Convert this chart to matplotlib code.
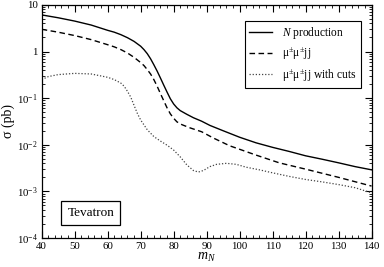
import numpy as np
import matplotlib
matplotlib.use('Agg')
import matplotlib.pyplot as plt
from matplotlib.ticker import MultipleLocator, LogLocator, FuncFormatter, NullFormatter

plt.rcParams['font.family'] = ['Liberation Serif', 'DejaVu Serif']
plt.rcParams['mathtext.fontset'] = 'custom'
plt.rcParams['mathtext.rm'] = 'Liberation Serif'
plt.rcParams['mathtext.it'] = 'Liberation Serif:italic'
plt.rcParams['mathtext.bf'] = 'Liberation Serif:bold'

# N production
m_prod = [40, 45, 50, 55, 60, 62, 64, 66, 68, 70, 71, 72, 73, 74, 75, 76, 77, 78, 79, 80,
          81, 82, 84, 86, 88.5, 91, 95, 100, 105, 110, 115, 120, 125, 130, 135, 140]
sig_prod = [6.1, 5.3, 4.5, 3.7, 2.85, 2.6, 2.3, 1.98, 1.65, 1.3, 1.1, 0.9, 0.7, 0.52, 0.38,
            0.27, 0.19, 0.135, 0.097, 0.075, 0.062, 0.054, 0.045, 0.038, 0.032, 0.026,
            0.02, 0.0145, 0.011, 0.0088, 0.0072, 0.0058, 0.0049, 0.0041, 0.0034, 0.0029]

# mu+- mu+- jj
m_mumu = [40, 45, 50, 55, 60, 62, 64, 66, 68, 70, 71, 72, 73, 74, 75, 76, 77, 78, 79,
          80, 81, 82.5, 85, 88.5, 92, 97, 100, 105, 112, 120, 130, 140]
sig_mumu = [3.0, 2.6, 2.2, 1.8, 1.4, 1.26, 1.1, 0.93, 0.75, 0.58, 0.5, 0.41, 0.33,
            0.25, 0.18, 0.125, 0.088, 0.062, 0.046, 0.037, 0.031, 0.027, 0.023, 0.019,
            0.014, 0.0095, 0.008, 0.006, 0.0041, 0.003, 0.002, 0.0013]

# mu+- mu+- jj with cuts
m_cuts = [40, 42, 45, 50, 55, 60, 62, 64, 65, 66, 67, 68, 69, 70, 72, 74, 76, 78, 80, 82,
          84, 86, 87.5, 89, 91, 93, 96, 99, 102, 106, 110, 115, 120, 125, 130, 135, 140]
sig_cuts = [0.25, 0.29, 0.32, 0.34, 0.33, 0.28, 0.25, 0.21, 0.18, 0.14, 0.105, 0.07,
            0.047, 0.034, 0.021, 0.015, 0.012, 0.0098, 0.0077, 0.0055, 0.0037, 0.0028,
            0.0026, 0.0028, 0.0034, 0.0038, 0.0040, 0.0038, 0.0033, 0.0029, 0.0025,
            0.0021, 0.0018, 0.0016, 0.0014, 0.0012, 0.00093]

fig = plt.figure(figsize=(3.84, 2.67), dpi=100)
ax = fig.add_axes([0.1086, 0.1086, 0.859, 0.873])

ax.plot(m_prod, sig_prod, color='black', lw=1.0, label='$N$ production')
ax.plot(m_mumu, sig_mumu, color='black', lw=1.0, linestyle=(0, (4, 2.5)),
        label='\u03bc$^{\\pm}$\u03bc$^{\\pm}$jj')
ax.plot(m_cuts, sig_cuts, color='#444444', lw=0.9, linestyle=(0, (1, 1.5)),
        label='\u03bc$^{\\pm}$\u03bc$^{\\pm}$jj with cuts')

ax.set_yscale('log')
ax.set_xlim(40, 140)
ax.set_ylim(1e-4, 10)

ax.xaxis.set_major_locator(MultipleLocator(10))
ax.xaxis.set_minor_locator(MultipleLocator(2))
ax.yaxis.set_major_locator(LogLocator(base=10, numticks=10))
ax.yaxis.set_minor_locator(LogLocator(base=10, subs=np.arange(2, 10), numticks=20))
ax.yaxis.set_minor_formatter(NullFormatter())


def ylab(v, pos):
    e = int(round(np.log10(v)))
    if e == 1:
        return '10'
    if e == 0:
        return '1'
    return '$10^{%d}$' % e


ax.yaxis.set_major_formatter(FuncFormatter(ylab))
ax.tick_params(which='both', direction='in', top=True, right=True, labelsize=7.8)
ax.tick_params(axis='x', pad=3)
ax.tick_params(axis='y', pad=3)
ax.tick_params(which='major', length=5, width=0.8)
ax.tick_params(which='minor', length=2.5, width=0.6)
for s in ax.spines.values():
    s.set_linewidth(0.9)

ax.set_xlabel('$m_N$', fontsize=10, labelpad=0)
ax.set_ylabel('\u03c3 (pb)', fontsize=10, labelpad=1)

leg = ax.legend(loc='upper right', bbox_to_anchor=(0.968, 0.933), fontsize=8.3,
                handlelength=2.0, handletextpad=0.9, borderpad=0.35, labelspacing=0.45,
                fancybox=False, framealpha=1, edgecolor='black', borderaxespad=0)
leg.get_frame().set_linewidth(0.8)

ax.text(0.149, 0.109, 'Tevatron', transform=ax.transAxes, fontsize=9.5,
        ha='center', va='center',
        bbox=dict(boxstyle='square,pad=0.45', facecolor='white', edgecolor='black', lw=0.9))

fig.savefig('out.png', dpi=100)
